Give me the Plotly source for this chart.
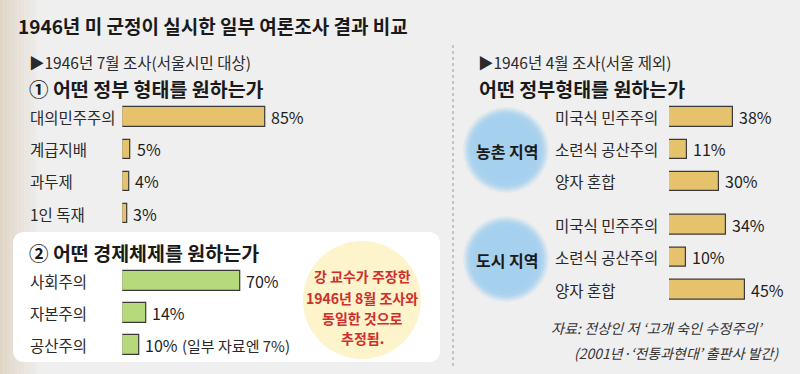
import plotly.graph_objects as go

# ---------------- data ----------------
gov_labels = ["대의민주주의", "계급지배", "과두제", "1인 독재"]
gov_values = [85, 5, 4, 3]
econ_labels = ["사회주의", "자본주의", "공산주의"]
econ_values = [70, 14, 10]
rural_labels = ["미국식 민주주의", "소련식 공산주의", "양자 혼합"]
rural_values = [38, 11, 30]
urban_labels = ["미국식 민주주의", "소련식 공산주의", "양자 혼합"]
urban_values = [34, 10, 45]

W, H = 800, 374
FONT = "Noto Sans CJK KR"
GOLD = "#e7c26c"
GREEN = "#b6da7b"
EDGE = "#3a3a3a"
BG = "#efefef"


def X(px):
    return px / W


def Y(py):
    return 1 - py / H


fig = go.Figure()

groups = [
    # labels, values, color, axis suffix, x-domain px, y-domain px, label x px, bar width, x max
    (gov_labels, gov_values, GOLD, "", (122.3, 290.3), (100.9, 229.6), 28, 0.6, 100),
    (econ_labels, econ_values, GREEN, "2", (122.3, 290.3), (265.0, 361.0), 28, 0.62, 100),
    (rural_labels, rural_values, GOLD, "3", (669.0, 753.0), (101.0, 197.4), 553, 0.6, 50),
    (urban_labels, urban_values, GOLD, "4", (669.0, 753.0), (208.8, 305.9), 553, 0.6, 50),
]

annotations = []
layout_axes = {}
for labels, values, color, sfx, xd, yd, lx, bw, xmax in groups:
    xa = "x" + sfx
    ya = "y" + sfx
    fig.add_trace(go.Bar(
        x=values, y=labels, orientation="h", width=bw,
        marker=dict(color=color, line=dict(color=EDGE, width=1.2)),
        xaxis=xa, yaxis=ya, showlegend=False, hoverinfo="skip",
    ))
    n = len(labels)
    layout_axes["xaxis" + sfx] = dict(
        domain=[X(xd[0]), X(xd[1])], range=[0, xmax], visible=False,
        anchor=ya, fixedrange=True)
    layout_axes["yaxis" + sfx] = dict(
        domain=[Y(yd[1]), Y(yd[0])], type="category", categoryarray=labels,
        range=[n - 0.5, -0.5], visible=False, anchor=xa, fixedrange=True)
    for lab, v in zip(labels, values):
        annotations.append(dict(
            x=X(lx), xref="paper", y=lab, yref=ya, text=lab, showarrow=False,
            xanchor="left", yanchor="middle",
            font=dict(family=FONT, size=15.5, color="#2a2a2a")))
        annotations.append(dict(
            x=v, xref=xa, y=lab, yref=ya, text=f"{v}%", showarrow=False,
            xanchor="left", yanchor="middle", xshift=4,
            font=dict(family=FONT, size=16, color="#1e1e1e")))

# extra note next to 공산주의
annotations.append(dict(
    x=X(180), xref="paper", y="공산주의", yref="y2", text="(일부 자료엔 7%)",
    showarrow=False, xanchor="left", yanchor="middle",
    font=dict(family=FONT, size=15, color="#2a2a2a")))


def txt(px, py, text, size, color="#1e1e1e", bold=False, anchor="left", italic=False):
    t = f"<b>{text}</b>" if bold else text
    if italic:
        t = f"<i>{t}</i>"
    annotations.append(dict(
        x=X(px), y=Y(py), xref="paper", yref="paper", text=t, showarrow=False,
        xanchor=anchor, yanchor="middle",
        font=dict(family=FONT, size=size, color=color)))


# title and headers
txt(16, 25, "1946년 미 군정이 실시한 일부 여론조사 결과 비교", 19, "#1a1a1a", bold=True)
txt(27, 62, "▶1946년 7월 조사(서울시민 대상)", 15.5, "#2a2a2a")
txt(27, 88, "① 어떤 정부 형태를 원하는가", 19.5, "#1a1a1a", bold=True)
txt(27, 252, "② 어떤 경제체제를 원하는가", 19.5, "#1a1a1a", bold=True)
txt(476, 62, "▶1946년 4월 조사(서울 제외)", 15.5, "#2a2a2a")
txt(477, 88, "어떤 정부형태를 원하는가", 19.5, "#1a1a1a", bold=True)

# region circle labels
txt(507, 151, "농촌 지역", 16, "#1a1a1a", bold=True, anchor="center")
txt(507, 260, "도시 지역", 16, "#1a1a1a", bold=True, anchor="center")

# red callout text
RED = "#cf2f2a"
for py, line in zip([276, 298, 318, 338],
                    ["강 교수가 주장한", "1946년 8월 조사와", "동일한 것으로", "추정됨."]):
    txt(362, py, line, 14, RED, bold=True, anchor="center")

# source
txt(766, 328, "자료: 전상인 저 ‘고개 숙인 수정주의’", 14.2, "#333333", anchor="right", italic=True)
txt(781, 353, "(2001년·‘전통과현대’ 출판사 발간)", 14, "#333333", anchor="right", italic=True)

# ---------------- shapes ----------------
shapes = []


def hexmix(c1, c2, t):
    a = [int(c1[i:i + 2], 16) for i in (1, 3, 5)]
    b = [int(c2[i:i + 2], 16) for i in (1, 3, 5)]
    m = [round(a[k] + (b[k] - a[k]) * t) for k in range(3)]
    return "#%02x%02x%02x" % tuple(m)


# left beige fade
nstrip = 12
for i in range(nstrip):
    x0 = i * 3.5
    shapes.append(dict(type="rect", xref="paper", yref="paper",
                       x0=X(x0), x1=X(x0 + 3.6), y0=0, y1=1,
                       fillcolor=hexmix("#e0d6c6", BG, i / (nstrip - 1)),
                       line=dict(width=0), layer="below"))


# white rounded box
def rrect(x0, y0, x1, y1, r):
    rx, ry = r / W, r / H
    a, b, c, d = X(x0), Y(y0), X(x1), Y(y1)
    return (f"M {a + rx},{b} L {c - rx},{b} Q {c},{b} {c},{b - ry} "
            f"L {c},{d + ry} Q {c},{d} {c - rx},{d} L {a + rx},{d} "
            f"Q {a},{d} {a},{d + ry} L {a},{b - ry} Q {a},{b} {a + rx},{b} Z")


shapes.append(dict(type="path", xref="paper", yref="paper",
                   path=rrect(13, 232, 440, 362, 12),
                   fillcolor="#ffffff", line=dict(width=0), layer="below"))


def circle(cx, cy, r, color):
    shapes.append(dict(type="circle", xref="paper", yref="paper",
                       x0=X(cx - r), x1=X(cx + r), y0=Y(cy + r), y1=Y(cy - r),
                       fillcolor=color, line=dict(width=0), layer="below"))


# yellow callout circle
circle(362, 300, 59, "#fdf4cc")

# blue soft circles
BLUE = "#a6d1ee"
for cy in (150, 259):
    for r, t in [(43, 0.2), (41.5, 0.4), (40, 0.6), (38.5, 0.8), (36.5, 0.95), (33, 1.0)]:
        circle(506, cy, r, hexmix(BG, BLUE, t))

# dotted divider
shapes.append(dict(type="line", xref="paper", yref="paper",
                   x0=X(453), x1=X(453), y0=Y(45), y1=Y(366),
                   line=dict(color="#9a9a9a", width=1, dash="dot")))

fig.update_layout(
    width=W, height=H,
    margin=dict(l=0, r=0, t=0, b=0),
    paper_bgcolor=BG, plot_bgcolor="rgba(0,0,0,0)",
    annotations=annotations, shapes=shapes,
    bargap=0, **layout_axes,
)

fig.write_html(
    "out.html",
    config={"displayModeBar": False},
    post_script="document.body.style.margin='0';document.body.style.padding='0';"
                "document.body.style.overflow='hidden';",
)
